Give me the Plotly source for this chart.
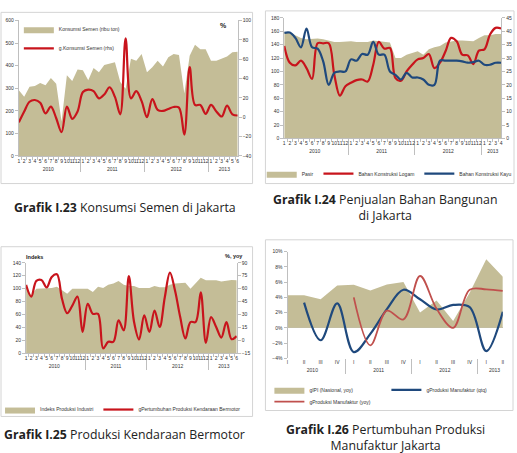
import plotly.graph_objects as go

W, H = 517, 453

# ---------------- DATA ----------------
# Chart I.23 (Jan 2010 - Jun 2013)
c1_years = ['2010'] * 12 + ['2011'] * 12 + ['2012'] * 12 + ['2013'] * 6
c1_months = ['1', '2', '3', '4', '5', '6', '7', '8', '9', '10', '11', '12'] * 3 + ['1', '2', '3', '4', '5', '6']
cement_volume = [291, 262, 306, 310, 323, 313, 345, 320, 153, 357, 332, 383,
                 379, 335, 389, 371, 403, 408, 415, 327, 298, 430, 422, 451,
                 371, 393, 422, 396, 437, 451, 447, 277, 444, 492, 473, 473,
                 422, 422, 430, 440, 459, 462]
cement_growth = [-5.3, 5.9, 16, 17.8, 15, 4, 11, -1, -15.5, 11, -1.6, 6,
                 26, 28.6, 27, 19.5, 23.5, 31, 21, 3, 81.6, 19.5, 27, 16.7,
                 0, 18.8, 7.6, 6.5, 8.6, 10.6, 10, -18, 51.7, 12.7, 12.7, 3.5,
                 12.7, 6, 0.8, 12, 3, 1.8]

# Chart I.24 (Jan 2010 - Apr 2013)
c2_years = ['2010'] * 12 + ['2011'] * 12 + ['2012'] * 12 + ['2013'] * 4
c2_months = ['1', '2', '3', '4', '5', '6', '7', '8', '9', '10', '11', '12'] * 3 + ['1', '2', '3', '4']
pasir = [159, 158, 154, 150, 148, 149, 149, 148, 146, 144, 144, 145,
         145, 144, 144, 144, 146, 145, 144, 143, 120, 120, 125, 128,
         130, 125, 133, 136, 138, 143, 145, 146, 146, 145, 145, 150,
         154, 154, 156, 156]
logam = [34.5, 28.25, 27.25, 29, 26.25, 22.25, 35.5, 35.5, 35.5, 23.75, 16, 19.5,
         20.75, 21.75, 22, 21.25, 27.5, 36, 33.5, 33.75, 22.5, 21.5, 25, 27.5,
         29.5, 30, 31.5, 26.25, 28.25, 32.5, 37.5, 36.25, 31.25, 31, 27.75, 32.75,
         33.25, 38.75, 41.25, 41]
kayu = [39.4, 39.5, 37.5, 34, 41, 34, 33.5, 28.75, 20, 24.5, 25, 25,
        29.5, 29, 31.5, 31.25, 36, 31.25, 31.25, 25, 23.75, 22, 24.5, 22.75,
        22.75, 22, 20, 20, 29, 29, 29, 29, 28.75, 28.25, 28.5, 29,
        27.5, 27.5, 28.25, 28.25]

# Chart I.25 (Jan 2010 - Jun 2013)
c3_years = c1_years
c3_months = c1_months
ipi = [104, 90, 100, 100, 100, 101, 103, 97, 92, 100, 100, 100,
       100, 95, 103, 101, 106, 108, 112, 106, 104, 104, 101, 101,
       101, 104, 102, 102, 106, 108, 109, 109, 100, 108, 117, 113,
       113, 113, 111, 112, 113.5, 113]
kendaraan = [64.4, 50.7, 69, 70, 61.4, 73.6, 76.6, 48, 31.6, 40.4, 50.7, 9.8,
             42.3, 30.8, 30.8, -9.3, -1.6, -1.6, 23.2, 11.7, 74.7, 22, 1, 28.9,
             9.8, 34.6, 15.5, 50, 78.5, 57.5, 27, 2.2, 21.3, 21.3, 55.6, -2.8,
             27, 15.5, 3.3, 21.3, 1.4, 4.9]

# Chart I.26 (2010 Q1 - 2013 Q2)
c4_years = ['2010'] * 4 + ['2011'] * 4 + ['2012'] * 4 + ['2013'] * 2
c4_quarters = ['I', 'II', 'III', 'IV'] * 3 + ['I', 'II']
gipi = [4.27, 4.27, 3.75, 5.56, 5.65, 4.9, 5.7, 6.0, 2.0, 3.6, 0.9, 4.6, 9.0, 6.7]
manuf_qtq = [None, 3.3, -1.64, 3.2, -3.2, -0.8, 2.45, 5.0, 3.75, 2.4, 3.0, 2.7, -3.06, 2.1]
manuf_yoy = [None, None, None, None, 4.0, -2.3, 2.25, 1.1, 6.8, 2.5, 0.0, 5.0, 5.05, 4.85]

# ---------------- STYLE ----------------
TAN = '#C4BD97'
RED = '#C8141C'
RED2 = '#C0504D'
BLUE = '#1F497D'
GREY = '#BFBFBF'
FONT = 'Liberation Sans'
TXT = '#333333'


def fx(px):
    return px / W


def fy(py):
    return 1 - py / H


def xdom(a, b):
    return [fx(a), fx(b)]


def ydom(top, bottom):
    return [fy(bottom), fy(top)]


fig = go.Figure()

# Chart 1
fig.add_trace(go.Scatter(x=[c1_years, c1_months], y=cement_volume, name='Konsumsi Semen (ribu ton)',
                         mode='lines', fill='tozeroy', fillcolor=TAN, line=dict(width=0, color=TAN),
                         xaxis='x', yaxis='y', legend='legend'))
fig.add_trace(go.Scatter(x=[c1_years, c1_months], y=cement_growth, name='g.Konsumsi Semen (rhs)',
                         mode='lines', line=dict(color=RED, width=2.2, shape='spline', smoothing=1),
                         xaxis='x', yaxis='y2', legend='legend'))

# Chart 2
fig.add_trace(go.Scatter(x=[c2_years, c2_months], y=pasir, name='Pasir',
                         mode='lines', fill='tozeroy', fillcolor=TAN, line=dict(width=0, color=TAN),
                         xaxis='x2', yaxis='y3', legend='legend2'))
fig.add_trace(go.Scatter(x=[c2_years, c2_months], y=logam, name='Bahan Konstruksi Logam',
                         mode='lines', line=dict(color=RED, width=2.2, shape='spline', smoothing=1),
                         xaxis='x2', yaxis='y4', legend='legend2'))
fig.add_trace(go.Scatter(x=[c2_years, c2_months], y=kayu, name='Bahan Konstruksi Kayu',
                         mode='lines', line=dict(color=BLUE, width=2.2, shape='spline', smoothing=1),
                         xaxis='x2', yaxis='y4', legend='legend2'))

# Chart 3
fig.add_trace(go.Scatter(x=[c3_years, c3_months], y=ipi, name='Indeks Produksi Industri',
                         mode='lines', fill='tozeroy', fillcolor=TAN, line=dict(width=0, color=TAN),
                         xaxis='x3', yaxis='y5', legend='legend3'))
fig.add_trace(go.Scatter(x=[c3_years, c3_months], y=kendaraan, name='gPertumbuhan Produksi Kendaraan Bermotor',
                         mode='lines', line=dict(color=RED, width=2.2, shape='spline', smoothing=1),
                         xaxis='x3', yaxis='y6', legend='legend3'))

# Chart 4
fig.add_trace(go.Scatter(x=[c4_years, c4_quarters], y=gipi, name='gIPI (Nasional, yoy)',
                         mode='lines', fill='tozeroy', fillcolor=TAN, line=dict(width=0, color=TAN),
                         xaxis='x4', yaxis='y7', legend='legend4'))
fig.add_trace(go.Scatter(x=[c4_years, c4_quarters], y=manuf_qtq, name='gProduksi Manufaktur (qtq)',
                         mode='lines', line=dict(color=BLUE, width=2.2, shape='spline', smoothing=1),
                         xaxis='x4', yaxis='y7', legend='legend4', connectgaps=False))
fig.add_trace(go.Scatter(x=[c4_years, c4_quarters], y=manuf_yoy, name='gProduksi Manufaktur (yoy)',
                         mode='lines', line=dict(color=RED2, width=1.8, shape='spline', smoothing=1),
                         xaxis='x4', yaxis='y7', legend='legend5', connectgaps=False))

tickf = dict(family=FONT, size=5, color=TXT)


def xcat(dom, anchor, showline=True):
    return dict(domain=dom, anchor=anchor, type='multicategory', showline=showline, linecolor=GREY,
                linewidth=1, ticks='outside' if showline else '', tickson='boundaries', ticklen=3,
                tickcolor=GREY, showdividers=True, dividercolor=GREY, dividerwidth=1, tickangle=0,
                nticks=100, tickfont=tickf, showgrid=False, zeroline=False, fixedrange=True)


def yax(dom, anchor, rng, dtick, side='left', overlaying=None, **kw):
    d = dict(domain=dom, anchor=anchor, range=rng, dtick=dtick, side=side, showgrid=False,
             showline=True, linecolor=GREY, linewidth=1, ticks='outside', ticklen=3, tickcolor=GREY,
             tickfont=tickf, zeroline=False, fixedrange=True)
    if overlaying:
        d['overlaying'] = overlaying
    d.update(kw)
    return d


d1x, d1y = xdom(16, 237), ydom(17.7, 155)
d2x, d2y = xdom(284, 503), ydom(15, 137.3)
d3x, d3y = xdom(23.3, 236), ydom(263.3, 355)
d4x, d4y = xdom(287.3, 504.7), ydom(252, 360)

legf = dict(family=FONT, size=5, color=TXT)
legcommon = dict(bgcolor='rgba(0,0,0,0)', font=legf, itemwidth=30, tracegroupgap=0, itemclick=False)

fig.update_layout(
    width=W, height=H, margin=dict(l=0, r=0, t=0, b=0, pad=0),
    paper_bgcolor='white', plot_bgcolor='rgba(0,0,0,0)',
    font=dict(family=FONT, color=TXT),
    showlegend=True,
    xaxis=xcat(d1x, 'y'),
    yaxis=yax(d1y, 'x', [0, 600], 100),
    yaxis2=yax(d1y, 'x', [-40, 100], 20, side='right', overlaying='y'),
    xaxis2=xcat(d2x, 'y3'),
    yaxis3=yax(d2y, 'x2', [0, 180], 20),
    yaxis4=yax(d2y, 'x2', [0, 45], 5, side='right', overlaying='y3'),
    xaxis3=xcat(d3x, 'y5'),
    yaxis5=yax(d3y, 'x3', [0, 140], 20),
    yaxis6=yax(d3y, 'x3', [-15, 90], 15, side='right', overlaying='y5'),
    xaxis4=xcat(d4x, 'y7', showline=False),
    yaxis7=yax(d4y, 'x4', [-4, 10], 2, ticksuffix='%', zeroline=True, zerolinecolor=GREY, zerolinewidth=1),
    legend=dict(x=fx(16), y=fy(12), xanchor='left', yanchor='top', orientation='v', **legcommon),
    legend2=dict(x=fx(390), y=fy(173), xanchor='center', yanchor='middle', orientation='h', **legcommon),
    legend3=dict(x=fx(-3), y=fy(412), xanchor='left', yanchor='middle', orientation='h', **legcommon),
    legend4=dict(x=fx(269), y=fy(392), xanchor='left', yanchor='middle', orientation='h',
                 entrywidth=72, entrywidthmode='pixels', **legcommon),
    legend5=dict(x=fx(269), y=fy(404), xanchor='left', yanchor='middle', orientation='h', **legcommon),
)

# frames
frames = [(-2, 9.5, 252, 183), (265, 8, 516, 183), (-2, 247, 252, 419), (265, 240, 515, 413)]
for (a, b, c, d) in frames:
    fig.add_shape(type='rect', xref='paper', yref='paper', x0=fx(a), x1=fx(c), y0=fy(d), y1=fy(b),
                  line=dict(color='#D4D4D4', width=1), fillcolor='rgba(0,0,0,0)', layer='below')


# text annotations
def ann(text, x, y, size=12.3, xanchor='center', family='Open Sans', color='#222222'):
    fig.add_annotation(text=text, x=fx(x), y=fy(y), xref='paper', yref='paper', showarrow=False,
                       xanchor=xanchor, yanchor='middle', font=dict(family=family, size=size, color=color))


ann('<b>%</b>', 223, 23, size=7, family=FONT)
ann('<b>Indeks</b>', 21, 257, size=5.5, xanchor='left', family=FONT)
ann('<b>%, yoy</b>', 244, 256, size=5.5, xanchor='right', family=FONT)

ann('<b>Grafik I.23</b> Konsumsi Semen di Jakarta', 123, 207)
ann('<b>Grafik I.24</b> Penjualan Bahan Bangunan<br>di Jakarta', 386, 207)
ann('<b>Grafik I.25</b> Produksi Kendaraan Bermotor', 123, 437)
ann('<b>Grafik I.26</b> Pertumbuhan Produksi<br>Manufaktur Jakarta', 386, 440)

fig.write_html('out.html')
